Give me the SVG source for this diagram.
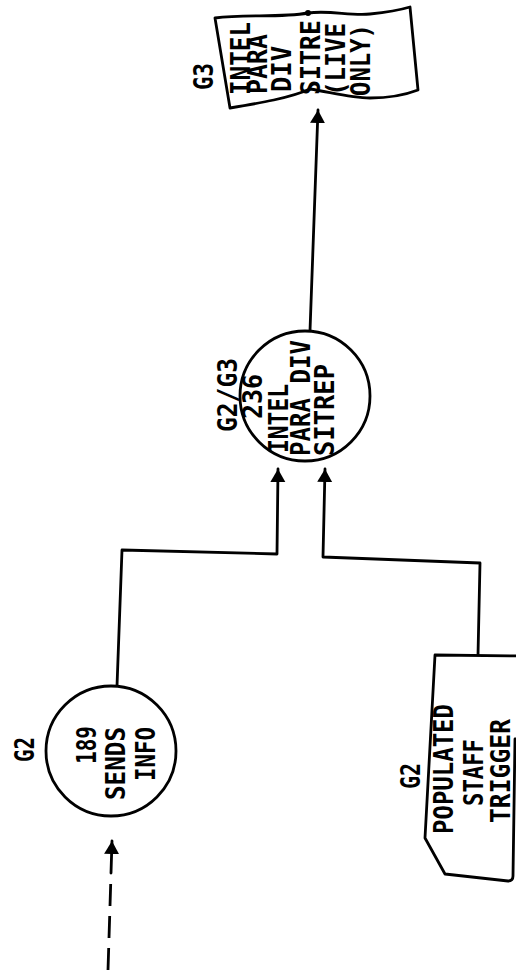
<svg xmlns="http://www.w3.org/2000/svg" width="516" height="972" viewBox="0 0 516 972">
<style>
  .ln { fill: none; stroke: #000; stroke-width: 2.8; stroke-linejoin: round; stroke-linecap: round; }
  .sh { fill: #fff; stroke: #000; stroke-width: 2.8; stroke-linejoin: round; }
  .t { font-family: "DejaVu Sans Mono", "Liberation Mono", monospace; font-size: 26px; font-weight: bold; fill: #000; }
  .dash { stroke-dasharray: 22 10; stroke-linecap: butt; }
</style>
<defs>
  <marker id="ah" markerUnits="userSpaceOnUse" markerWidth="14" markerHeight="16" refX="13" refY="8" orient="auto">
    <path d="M0,0.5 L13,8 L0,15.5 z" fill="#000"/>
  </marker>
</defs>
<rect width="516" height="972" fill="#fff"/>

<g id="connectors">
  <path class="ln" d="M310,331 L318,110" marker-end="url(#ah)"/>
  <path class="ln" d="M117,686 L122,550 L277,554 L278,469" marker-end="url(#ah)"/>
  <path class="ln" d="M478,655 L480,563 L323,557 L325,469" marker-end="url(#ah)"/>
  <path class="ln" d="M111,873 L112,841" marker-end="url(#ah)"/>
  <path class="ln dash" d="M108,970 L111,874"/>
</g>

<g id="node-g3-report">
  <path class="sh" d="M215,18 C245,14 280,18 308,13 C330,10 350,16 370,14 C390,12 400,10 410,7 L418,90 C405,95 390,98 370,98 C350,98 330,92 310,89 C290,98 260,103 230,108 Z"/>
  <circle cx="308" cy="13" r="3" fill="#000"/>
  <text class="t" transform="translate(213,90) rotate(-90)" textLength="27" lengthAdjust="spacingAndGlyphs">G3</text>
  <text class="t" transform="translate(250,95) rotate(-90)" textLength="73" lengthAdjust="spacingAndGlyphs">INTEL</text>
  <text class="t" transform="translate(267,94) rotate(-90)" textLength="60" lengthAdjust="spacingAndGlyphs">PARA</text>
  <text class="t" transform="translate(291,92) rotate(-90)" textLength="46" lengthAdjust="spacingAndGlyphs">DIV</text>
  <text class="t" transform="translate(320,95) rotate(-90)" textLength="75" lengthAdjust="spacingAndGlyphs">SITRE</text>
  <text class="t" transform="translate(345,96) rotate(-90)" textLength="73" lengthAdjust="spacingAndGlyphs">(LIVE</text>
  <text class="t" transform="translate(370,96) rotate(-90)" textLength="72" lengthAdjust="spacingAndGlyphs">ONLY)</text>
</g>

<g id="node-236">
  <circle class="sh" cx="305" cy="396" r="65"/>
  <text class="t" transform="translate(237,432) rotate(-90)" textLength="74" lengthAdjust="spacingAndGlyphs">G2/G3</text>
  <text class="t" transform="translate(262,419) rotate(-90)" textLength="45" lengthAdjust="spacingAndGlyphs">236</text>
  <text class="t" transform="translate(288,453) rotate(-90)" textLength="69" lengthAdjust="spacingAndGlyphs">INTEL</text>
  <text class="t" transform="translate(310,456) rotate(-90)" textLength="116" lengthAdjust="spacingAndGlyphs">PARA DIV</text>
  <text class="t" transform="translate(334,456) rotate(-90)" textLength="92" lengthAdjust="spacingAndGlyphs">SITREP</text>
</g>

<g id="node-189">
  <circle class="sh" cx="111" cy="751" r="65"/>
  <text class="t" transform="translate(34,762) rotate(-90)" textLength="25" lengthAdjust="spacingAndGlyphs">G2</text>
  <text class="t" transform="translate(96,764) rotate(-90)" textLength="38" lengthAdjust="spacingAndGlyphs">189</text>
  <text class="t" transform="translate(125,800) rotate(-90)" textLength="73" lengthAdjust="spacingAndGlyphs">SENDS</text>
  <text class="t" transform="translate(155,781) rotate(-90)" textLength="54" lengthAdjust="spacingAndGlyphs">INFO</text>
</g>

<g id="node-trigger">
  <path class="sh" d="M520,656 L435,655 L425,838 L445,874 L508,881 Q513,881 513,876 L515,739 L520,739"/>
  <text class="t" transform="translate(420,789) rotate(-90)" textLength="26" lengthAdjust="spacingAndGlyphs">G2</text>
  <text class="t" transform="translate(453,834) rotate(-90)" textLength="130" lengthAdjust="spacingAndGlyphs">POPULATED</text>
  <text class="t" transform="translate(483,806) rotate(-90)" textLength="67" lengthAdjust="spacingAndGlyphs">STAFF</text>
  <text class="t" transform="translate(510,823) rotate(-90)" textLength="104" lengthAdjust="spacingAndGlyphs">TRIGGER</text>
</g>
</svg>
